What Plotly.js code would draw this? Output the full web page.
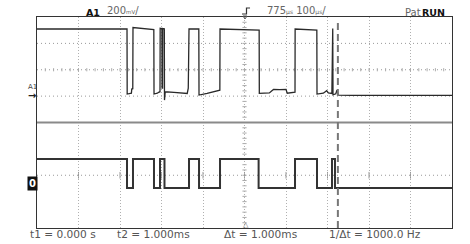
<!DOCTYPE html>
<html><head><meta charset="utf-8">
<script src="https://cdn.plot.ly/plotly-3.0.1.min.js"></script>
<style>html,body{margin:0;padding:0;background:#fff;}#chart{width:470px;height:244px;}</style>
</head><body><div id="chart"></div><script>
// Analog channel A1 (time in µs from left edge of screen, value in mV)
const a1Time = [0, 216.9, 217.3, 222, 227.5, 228.3, 230.8, 231.3, 250, 281.5, 282, 290, 295, 296.4, 296.8, 301, 301.4, 302.6, 303, 306.8, 307.2, 309, 330, 350, 362, 364.5, 366.3, 389.9, 390.4, 410, 430, 436, 440.6, 441, 480, 535.3, 535.7, 560, 566, 570, 585, 600, 603, 618, 621.7, 622, 660, 674.3, 674.7, 690, 698, 702, 710.5, 710.8, 712.6, 713.3, 720, 723, 726, 760, 850, 1000];
const a1mV   = [509, 509, 16, 18, 22, 54, 56, 520, 516, 505, 16, 22, 33, 30, 514, 512, 60, 60, 512, 510, -30, 33, 28, 22, 20, 60, 509, 509, 8, 20, 35, 41, 45, 509, 505, 500, 21, 24, 40, 51, 49, 51, 22, 24, 30, 509, 505, 500, 16, 22, 41, 24, 20, 512, 512, 10, 18, 46, 8, 6, 8, 6];
// Logic channel 0
const logicTime  = [0, 216.9, 231.3, 281.9, 296.4, 307.2, 366.3, 390.4, 441.0, 534.0, 621.7, 674.7, 710.8, 718.0, 1000];
const logicState = [1, 0, 1, 0, 1, 0, 1, 0, 1, 0, 1, 0, 1, 0, 0];
const cursorTime = 725;
const readouts = ["t1 = 0.000 s", "t2 = 1.000ms", "Δt = 1.000ms", "1/Δt = 1000.0 Hz"];
const readoutX = [28, 115, 222, 327];
const dottedLevels = [0, 200, 400, -600];

const L = 37, T = 17, W = 415, H = 211;
const P = (x, y) => ({x: (x - L) / W, y: (T + H - y) / H, xref: 'paper', yref: 'paper'});

const traces = [
  {x: a1Time, y: a1mV, type: 'scatter', mode: 'lines', line: {color: '#2a2a2a', width: 1.3}, hoverinfo: 'skip'},
  {x: logicTime, y: logicState, yaxis: 'y2', type: 'scatter', mode: 'lines', line: {color: '#333', width: 2, shape: 'hv'}, hoverinfo: 'skip'}
];

const shapes = [];
dottedLevels.forEach(v => shapes.push({type: 'line', xref: 'x', yref: 'y', x0: 0, x1: 1000, y0: v, y1: v, line: {color: '#999', width: 1, dash: '1px,3px'}, layer: 'below'}));
shapes.push({type: 'line', xref: 'x', yref: 'y', x0: 0, x1: 1000, y0: -200, y1: -200, line: {color: '#8a8a8a', width: 2}});
// center graticule ticks
for (let v = -960; v < 600; v += 40) shapes.push({type: 'line', xref: 'x', yref: 'y', x0: 495, x1: 505, y0: v, y1: v, line: {color: '#aaa', width: 1}, layer: 'below'});
for (let t = 20; t < 1000; t += 20) shapes.push({type: 'line', xref: 'x', yref: 'y', x0: t, x1: t, y0: 188, y1: 212, line: {color: '#aaa', width: 1}, layer: 'below'});
for (let t = 100; t < 1000; t += 100) shapes.push({type: 'line', xref: 'x', yref: 'y', x0: t, x1: t, y0: -625, y1: -575, line: {color: '#999', width: 1}, layer: 'below'});
// cursor
shapes.push({type: 'line', xref: 'x', yref: 'paper', x0: cursorTime, x1: cursorTime, y0: 0, y1: 0.985, line: {color: '#777', width: 2, dash: '7px,4px'}});
// trigger glyph
const pp = (x, y) => `${((x - L) / W).toFixed(4)},${((T + H - y) / H).toFixed(4)}`;
shapes.push({type: 'path', xref: 'paper', yref: 'paper', path: `M${pp(250, 8)} L${pp(246.5, 8)} L${pp(246.5, 14)} L${pp(242, 14)}`, line: {color: '#333', width: 1.2}});
shapes.push({type: 'path', xref: 'paper', yref: 'paper', path: `M${pp(243, 16)} L${pp(247, 16)} L${pp(245, 19)} Z`, line: {color: '#555', width: 1}});

const ann = [];
const A = (x, y, text, font, extra) => ann.push(Object.assign(P(x, y), {text, showarrow: false, xanchor: 'left', yanchor: 'middle', font}, extra || {}));
const gray = {family: 'DejaVu Sans', size: 10, color: '#666'};
A(84, 12, '<b>A1</b>', {family: 'DejaVu Sans', size: 9.5, color: '#111'});
A(105, 11, '200<span style="font-size:5.5px">mV</span>/', gray);
A(265, 11, '775<span style="font-size:6px">µs</span> 100<span style="font-size:6px">µs</span>/', gray);
A(403, 12, 'Pat', gray);
A(420, 12, '<b>RUN</b>', {family: 'DejaVu Sans', size: 9.5, color: '#111'});
A(26, 87, 'A1', {family: 'DejaVu Sans', size: 7, color: '#444'});
A(26, 95, '<b>→</b>', {family: 'DejaVu Sans', size: 10, color: '#222'});
A(27, 183, '<b>0</b>', {family: 'DejaVu Sans', size: 10, color: '#fff'}, {bgcolor: '#111', borderpad: 1});
A(241, 225, '△', {family: 'DejaVu Sans', size: 7, color: '#666'});
readouts.forEach((s, i) => A(readoutX[i], 234, s, {family: 'DejaVu Sans', size: 10.6, color: '#555'}));

const layout = {
  width: 470, height: 244,
  margin: {l: L, r: 470 - L - W, t: T, b: 244 - T - H, pad: 0},
  paper_bgcolor: '#fff', plot_bgcolor: '#fff',
  showlegend: false,
  xaxis: {range: [0, 1000], dtick: 100, showgrid: true, gridcolor: '#b0b0b0', griddash: '1px,2px', gridwidth: 1,
          showticklabels: false, ticks: '', zeroline: false, showline: true, mirror: true, linecolor: '#333', linewidth: 1, fixedrange: true},
  yaxis: {range: [-1000, 600], showgrid: false, showticklabels: false, ticks: '', zeroline: false,
          showline: true, mirror: true, linecolor: '#333', linewidth: 1, fixedrange: true},
  yaxis2: {range: [-1.380, 5.898], overlaying: 'y', showgrid: false, showticklabels: false, ticks: '', zeroline: false, showline: false, fixedrange: true},
  shapes: shapes,
  annotations: ann
};
Plotly.newPlot('chart', traces, layout, {staticPlot: true, displayModeBar: false});
</script></body></html>
